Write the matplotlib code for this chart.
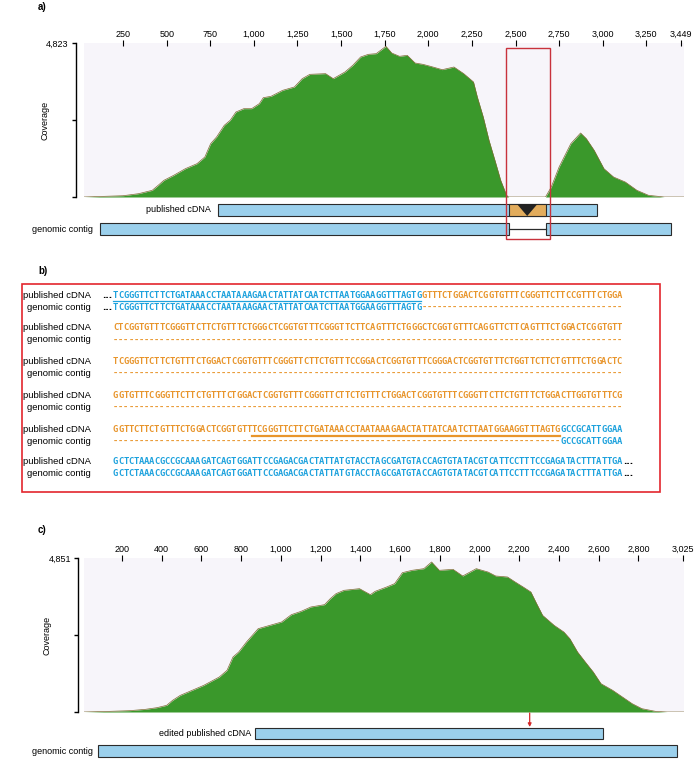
import matplotlib.pyplot as plt
from matplotlib.patches import Rectangle, Polygon
from matplotlib import transforms

W, H = 700, 777

# ---- panel a: read coverage against the published cDNA ----
a_pos = [26, 138, 250, 339, 417, 451, 484, 540, 607, 674, 719, 752, 786, 830, 864,
         897, 942, 987, 1031, 1054, 1098, 1165, 1232, 1277, 1321, 1411, 1455, 1522,
         1567, 1612, 1656, 1701, 1757, 1790, 1835, 1879, 1924, 1969, 2013, 2080,
         2147, 2203, 2248, 2259, 2281, 2315, 2348, 2382, 2415, 2449, 2460, 2672,
         2705, 2750, 2817, 2873, 2906, 2951, 3007, 3062, 3129, 3196, 3263, 3353, 3466]
a_cov = [0, 20, 40, 104, 209, 365, 522, 678, 887, 1044, 1253, 1670, 1879, 2244, 2401,
         2662, 2766, 2766, 2923, 3111, 3153, 3341, 3445, 3706, 3842, 3863, 3706, 3915,
         4124, 4385, 4468, 4489, 4719, 4510, 4406, 4437, 4197, 4155, 4092, 3988,
         4071, 3863, 3654, 3602, 3132, 2505, 1775, 1148, 522, 52, 0, 0,
         313, 940, 1670, 2004, 1827, 1461, 887, 626, 470, 209, 52, 0, 0]
a_max = 4823
a_ticks = [250, 500, 750, 1000, 1250, 1500, 1750, 2000, 2250, 2500, 2750, 3000, 3250, 3449]
a_cdna = (795, 2965)
a_insert = (2462, 2672)
a_genomic = [(117, 2462), (2672, 3390)]
a_box = (2445, 2700)

# ---- panel c: read coverage against the edited cDNA ----
c_pos = [9, 141, 239, 318, 376, 425, 455, 494, 553, 612, 690, 729, 759, 788, 827, 886,
         945, 1004, 1053, 1102, 1151, 1220, 1249, 1278, 1318, 1396, 1451, 1475, 1533,
         1573, 1612, 1661, 1720, 1759, 1798, 1867, 1916, 1984, 2043, 2082, 2141, 2180,
         2220, 2259, 2288, 2318, 2376, 2425, 2455, 2494, 2533, 2573, 2612, 2671, 2720,
         2769, 2818, 2886, 2945, 3030]
c_cov = [0, 21, 42, 84, 136, 210, 367, 525, 682, 840, 1102, 1312, 1732, 1890, 2205, 2625,
         2730, 2835, 3066, 3171, 3308, 3381, 3570, 3728, 3833, 3885, 3696, 3801, 3938,
         4043, 4389, 4463, 4515, 4725, 4463, 4494, 4284, 4515, 4410, 4284, 4253, 4095,
         3938, 3780, 3413, 3045, 2730, 2520, 2310, 1890, 1575, 1260, 892, 682, 472,
         262, 105, 21, 0, 0]
c_max = 4851
c_ticks = [200, 400, 600, 800, 1000, 1200, 1400, 1600, 1800, 2000, 2200, 2400, 2600, 2800, 3025]
c_cdna = (871, 2622)
c_genomic = (78, 2994)
c_edit = 2253

# ---- panel b: alignment text ----
row_labels = ['published cDNA', 'genomic contig']
exon_a = 'TCGGGTTCTTCTGATAAACCTAATAAAGAACTATTATCAATCTTAATGGAAGGTTTAGTG'
ins_1 = 'GTTTCTGGACTCGGTGTTTCGGGTTCTTCCGTTTCTGGA'
ins_2 = 'CTCGGTGTTTCGGGTTCTTCTGTTTCTGGGCTCGGTGTTTCGGGTTCTTCAGTTTCTGGGCTCGGTGTTTCAGGTTCTTCAGTTTCTGGACTCGGTGTT'
ins_3 = 'TCGGGTTCTTCTGTTTCTGGACTCGGTGTTTCGGGTTCTTCTGTTTCCGGACTCGGTGTTTCGGGACTCGGTGTTTCTGGTTCTTCTGTTTCTGGACTC'
ins_4 = 'GGTGTTTCGGGTTCTTCTGTTTCTGGACTCGGTGTTTCGGGTTCTTCTGTTTCTGGACTCGGTGTTTCGGGTTCTTCTGTTTCTGGACTTGGTGTTTCG'
ins_5 = 'GGTTCTTCTGTTTCTGGACTCGGTGTT'
exon_b1 = 'GCCGCATTGGAA'
exon_b2 = 'GCTCTAAACGCCGCAAAGATCAGTGGATTCCGAGACGACTATTATGTACCTAGCGATGTACCAGTGTATACGTCATTCCTTTCCGAGATACTTTATTGA'

BLUE = '#1ea2dd'
ORANGE = '#e8952c'
GREEN = '#3a982b'
BARBLUE = '#9bd0ec'

plt.rcParams['font.family'] = ['Liberation Sans', 'DejaVu Sans']

fig = plt.figure(figsize=(W / 100, H / 100), dpi=100)


def px_rect(l, t, r, b):
    return [l / W, 1 - b / H, (r - l) / W, (b - t) / H]


def coverage_panel(rect, pos, cov, ymax, ticks, xlim, spine_off, lab_x):
    ax = fig.add_axes(px_rect(*rect))
    ax.set_facecolor('#f7f5fa')
    ax.fill_between(pos, cov, color=GREEN, lw=0)
    ax.plot(pos, cov, color='#7d6a32', lw=0.5)
    ax.set_xlim(*xlim)
    ax.set_ylim(0, ymax)
    ax.set_yticks([0, ymax / 2, ymax])
    ax.set_yticklabels(['', '', f'{ymax:,}'])
    ax.xaxis.tick_top()
    ax.set_xticks(ticks)
    ax.set_xticklabels([f'{t:,}' for t in ticks])
    for s in ['top', 'right', 'bottom']:
        ax.spines[s].set_visible(False)
    ax.spines['left'].set_position(('outward', spine_off))
    ax.spines['left'].set_linewidth(1.0)
    ax.tick_params(axis='y', length=3, width=1, labelsize=6.5, pad=2)
    ax.tick_params(axis='x', direction='inout', length=4, width=0.8, labelsize=6.5, pad=1)
    ax.set_ylabel('Coverage', fontsize=6.5)
    ax.yaxis.set_label_coords(lab_x, 0.5)
    return ax


ax_a = coverage_panel((84, 43, 684, 197), a_pos, a_cov, a_max, a_ticks, (26, 3466), 6, -0.058)
ax_c = coverage_panel((84, 558, 684, 712), c_pos, c_cov, c_max, c_ticks, (9, 3030), 4, -0.055)

# overlay in pixel units for labels, bars and the alignment block
ov = fig.add_axes([0, 0, 1, 1])
ov.set_xlim(0, W)
ov.set_ylim(H, 0)
ov.axis('off')
ov.patch.set_alpha(0)

for lab, y in [('a)', 7), ('b)', 271), ('c)', 530)]:
    ov.text(38, y, lab, fontsize=7, fontweight='bold', va='center')

bl_a = transforms.blended_transform_factory(ax_a.transData, ov.transData)
bl_c = transforms.blended_transform_factory(ax_c.transData, ov.transData)


def bar(tr, x0, x1, top, h, fc=BARBLUE):
    ov.add_patch(Rectangle((x0, top), x1 - x0, h, transform=tr, facecolor=fc,
                           edgecolor='#2b2b2b', lw=0.8, clip_on=False))


def bar_label(tr, x, y, text, off):
    ov.annotate(text, xy=(x, y), xycoords=tr, xytext=(-off, 0), textcoords='offset pixels',
                ha='right', va='center', fontsize=6.5)


# panel a tracks
bar(bl_a, a_cdna[0], a_cdna[1], 204, 12)
bar(bl_a, a_insert[0], a_insert[1], 204, 12, fc='#e2ac5c')
mid = (a_insert[0] + a_insert[1]) / 2
half = (a_insert[1] - a_insert[0]) * 0.28
ov.add_patch(Polygon([(mid - half, 204), (mid + half, 204), (mid, 216)], closed=True,
                     transform=bl_a, facecolor='#222222', edgecolor='none', clip_on=False))
bar_label(bl_a, a_cdna[0], 210, 'published cDNA', 7)
for g0, g1 in a_genomic:
    bar(bl_a, g0, g1, 223, 12)
ov.plot([a_genomic[0][1], a_genomic[1][0]], [229, 229], transform=bl_a, color='#2b2b2b', lw=0.9)
bar_label(bl_a, a_genomic[0][0], 229, 'genomic contig', 7)
ov.add_patch(Rectangle((a_box[0], 48), a_box[1] - a_box[0], 191, transform=bl_a,
                       facecolor='none', edgecolor='#c8323c', lw=1.0, clip_on=False))

# panel c tracks
bar(bl_c, c_cdna[0], c_cdna[1], 728, 11)
bar_label(bl_c, c_cdna[0], 733, 'edited published cDNA', 4)
bar(bl_c, c_genomic[0], c_genomic[1], 745, 12)
bar_label(bl_c, c_genomic[0], 751, 'genomic contig', 5)
ov.annotate('', xy=(c_edit, 727), xycoords=bl_c, xytext=(c_edit, 713), textcoords=bl_c,
            arrowprops=dict(arrowstyle='-|>', color='#d42a2a', lw=0.9, mutation_scale=5,
                            shrinkA=0, shrinkB=0))

# panel b alignment
ov.add_patch(Rectangle((22, 284), 638, 208, facecolor='none', edgecolor='#e3262d', lw=1.2))
CW = 5.14
X0 = 113
seq_font = dict(family='DejaVu Sans Mono', weight='bold', fontsize=6.4)


def seq(y, segments):
    # one glyph per alignment column, so both rows sit on the same column grid
    i = 0
    for s, col in segments:
        for ch in s:
            ov.text(X0 + (i + 0.5) * CW, y, ch, color=col, ha='center', va='center', **seq_font)
            i += 1
    return i


rows = [
    ([(exon_a, BLUE), (ins_1, ORANGE)], [(exon_a, BLUE), ('-' * len(ins_1), ORANGE)]),
    ([(ins_2, ORANGE)], [('-' * len(ins_2), ORANGE)]),
    ([(ins_3, ORANGE)], [('-' * len(ins_3), ORANGE)]),
    ([(ins_4, ORANGE)], [('-' * len(ins_4), ORANGE)]),
    ([(ins_5 + exon_a, ORANGE), (exon_b1, BLUE)],
     [('-' * len(ins_5 + exon_a), ORANGE), (exon_b1, BLUE)]),
    ([(exon_b2, BLUE)], [(exon_b2, BLUE)]),
]
row_y = [(295, 307), (328, 340), (361, 373), (395, 407), (429, 441), (462, 474)]

for k, ((top, bottom), (y1, y2)) in enumerate(zip(rows, row_y)):
    ov.text(91, y1, row_labels[0], ha='right', va='center', fontsize=6.8)
    ov.text(91, y2, row_labels[1], ha='right', va='center', fontsize=6.8)
    n1 = seq(y1, top)
    n2 = seq(y2, bottom)
    if k == 0:
        for y in (y1, y2):
            ov.text(X0 - 1, y, '...', ha='right', va='center', fontsize=6.5,
                    fontweight='bold', family='DejaVu Sans')
    if k == len(rows) - 1:
        for y, n in ((y1, n1), (y2, n2)):
            ov.text(X0 + n * CW + 1, y, '...', ha='left', va='center', fontsize=6.5,
                    fontweight='bold', family='DejaVu Sans')

# underlines marking the duplicated exon segment
ov.plot([X0, X0 + len(exon_a) * CW], [301, 301], color=BLUE, lw=0.9)
u0 = X0 + len(ins_5) * CW
ov.plot([u0, u0 + len(exon_a) * CW], [436, 436], color=ORANGE, lw=1.6)

fig.savefig('out.png', dpi=100)
